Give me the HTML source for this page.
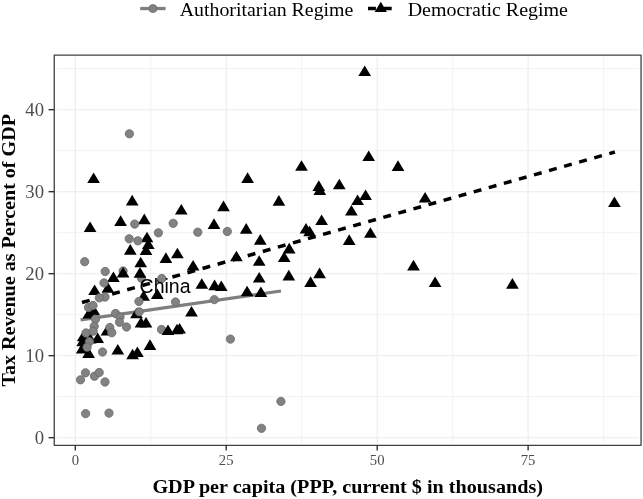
<!DOCTYPE html>
<html lang="en">
<head>
<meta charset="utf-8">
<title>Tax Revenue vs GDP per capita</title>
<style>
html,body{margin:0;padding:0;background:#fff;}
body{width:643px;height:499px;overflow:hidden;}
svg{display:block;will-change:transform;font-family:"Liberation Serif","Times New Roman",serif;}
</style>
</head>
<body>
<svg width="643" height="499" viewBox="0 0 643 499">
<rect width="643" height="499" fill="#fff"/>
<!-- gridlines -->
<path d="M150.8 57.1V443.3" stroke="#f0f0f0" stroke-width="0.9"/>
<path d="M301.7 57.1V443.3" stroke="#f0f0f0" stroke-width="0.9"/>
<path d="M452.7 57.1V443.3" stroke="#f0f0f0" stroke-width="0.9"/>
<path d="M603.6 57.1V443.3" stroke="#f0f0f0" stroke-width="0.9"/>
<path d="M56.5 396.7H638.7" stroke="#f0f0f0" stroke-width="0.9"/>
<path d="M56.5 314.7H638.7" stroke="#f0f0f0" stroke-width="0.9"/>
<path d="M56.5 232.7H638.7" stroke="#f0f0f0" stroke-width="0.9"/>
<path d="M56.5 150.7H638.7" stroke="#f0f0f0" stroke-width="0.9"/>
<path d="M56.5 68.7H638.7" stroke="#f0f0f0" stroke-width="0.9"/>
<path d="M75.3 57.1V443.3" stroke="#ebebeb" stroke-width="1.1"/>
<path d="M226.2 57.1V443.3" stroke="#ebebeb" stroke-width="1.1"/>
<path d="M377.2 57.1V443.3" stroke="#ebebeb" stroke-width="1.1"/>
<path d="M528.1 57.1V443.3" stroke="#ebebeb" stroke-width="1.1"/>
<path d="M56.5 437.7H638.7" stroke="#ebebeb" stroke-width="1.1"/>
<path d="M56.5 355.7H638.7" stroke="#ebebeb" stroke-width="1.1"/>
<path d="M56.5 273.7H638.7" stroke="#ebebeb" stroke-width="1.1"/>
<path d="M56.5 191.7H638.7" stroke="#ebebeb" stroke-width="1.1"/>
<path d="M56.5 109.7H638.7" stroke="#ebebeb" stroke-width="1.1"/>
<!-- regression lines -->
<path d="M80.6 319.85L281 291" stroke="#7f7f7f" stroke-width="3.2" fill="none"/>
<path d="M82 302.5L614.9 152" stroke="#000" stroke-width="3.5" stroke-dasharray="7.95 7.705" fill="none"/>
<!-- points -->
<g fill="#828282" stroke="#686868" stroke-width="0.8">
<circle cx="123.1" cy="271.0" r="4.15"/><circle cx="141.5" cy="278.2" r="4.15"/><circle cx="161.5" cy="329.5" r="4.15"/>
</g>
<g fill="#000">
<path d="M93.6 172.4L99.95 183.0H87.25Z"/><path d="M132.2 194.8L138.55 205.4H125.85Z"/><path d="M120.6 215.3L126.95 225.9H114.25Z"/><path d="M144.3 213.6L150.65 224.2H137.95Z"/><path d="M90.1 221.4L96.45 232.0H83.75Z"/><path d="M147.0 231.7L153.35 242.3H140.65Z"/><path d="M148.3 238.4L154.65 249.0H141.95Z"/><path d="M146.0 244.5L152.35 255.1H139.65Z"/><path d="M130.3 244.1L136.65 254.7H123.95Z"/><path d="M140.7 256.7L147.05 267.3H134.35Z"/><path d="M140.0 267.1L146.35 277.7H133.65Z"/><path d="M123.1 267.0L129.45 277.6H116.75Z"/><path d="M113.4 271.4L119.75 282.0H107.05Z"/><path d="M107.9 282.1L114.25 292.7H101.55Z"/><path d="M94.6 284.5L100.95 295.1H88.25Z"/><path d="M143.6 290.2L149.95 300.8H137.25Z"/><path d="M157.3 288.5L163.65 299.1H150.95Z"/><path d="M165.9 252.3L172.25 262.9H159.55Z"/><path d="M177.4 247.7L183.75 258.3H171.05Z"/><path d="M193.1 259.9L199.45 270.5H186.75Z"/><path d="M201.8 278.2L208.15 288.8H195.45Z"/><path d="M214.6 279.6L220.95 290.2H208.25Z"/><path d="M221.3 280.5L227.65 291.1H214.95Z"/><path d="M191.5 305.9L197.85 316.5H185.15Z"/><path d="M141.0 316.9L147.35 327.5H134.65Z"/><path d="M146.0 316.9L152.35 327.5H139.65Z"/><path d="M136.5 307.7L142.85 318.3H130.15Z"/><path d="M168.0 324.4L174.35 335.0H161.65Z"/><path d="M177.0 323.7L183.35 334.3H170.65Z"/><path d="M179.6 323.0L185.95 333.6H173.25Z"/><path d="M150.0 339.3L156.35 349.9H143.65Z"/><path d="M137.4 346.5L143.75 357.1H131.05Z"/><path d="M132.6 348.7L138.95 359.3H126.25Z"/><path d="M117.8 343.9L124.15 354.5H111.45Z"/><path d="M97.7 332.5L104.05 343.1H91.35Z"/><path d="M107.0 324.9L113.35 335.5H100.65Z"/><path d="M88.8 307.9L95.10 318.5H82.40Z"/><path d="M93.8 304.7L100.15 315.3H87.45Z"/><path d="M90.2 332.9L96.55 343.5H83.85Z"/><path d="M83.2 330.7L89.55 341.3H76.85Z"/><path d="M82.7 335.6L89.05 346.2H76.35Z"/><path d="M82.2 342.8L88.55 353.4H75.85Z"/><path d="M88.6 347.3L94.95 357.9H82.25Z"/><path d="M181.3 203.9L187.65 214.5H174.95Z"/><path d="M247.6 172.3L253.95 182.9H241.25Z"/><path d="M278.9 195.1L285.25 205.7H272.55Z"/><path d="M223.5 200.6L229.85 211.2H217.15Z"/><path d="M214.0 218.3L220.35 228.9H207.65Z"/><path d="M246.2 223.1L252.55 233.7H239.85Z"/><path d="M260.3 234.1L266.65 244.7H253.95Z"/><path d="M301.5 160.2L307.85 170.8H295.15Z"/><path d="M236.4 250.7L242.75 261.3H230.05Z"/><path d="M259.2 255.2L265.55 265.8H252.85Z"/><path d="M289.2 242.8L295.55 253.4H282.85Z"/><path d="M284.2 251.5L290.55 262.1H277.85Z"/><path d="M259.2 271.9L265.55 282.5H252.85Z"/><path d="M288.8 269.8L295.15 280.4H282.45Z"/><path d="M247.1 285.7L253.45 296.3H240.75Z"/><path d="M260.9 286.4L267.25 297.0H254.55Z"/><path d="M364.7 65.5L371.05 76.1H358.35Z"/><path d="M368.7 150.5L375.05 161.1H362.35Z"/><path d="M398.0 160.3L404.35 170.9H391.65Z"/><path d="M318.8 180.3L325.15 190.9H312.45Z"/><path d="M319.8 184.3L326.15 194.9H313.45Z"/><path d="M339.3 178.7L345.65 189.3H332.95Z"/><path d="M365.6 189.5L371.95 200.1H359.25Z"/><path d="M357.6 194.5L363.95 205.1H351.25Z"/><path d="M351.4 204.9L357.75 215.5H345.05Z"/><path d="M321.6 214.5L327.95 225.1H315.25Z"/><path d="M306.0 223.0L312.35 233.6H299.65Z"/><path d="M309.6 225.7L315.95 236.3H303.25Z"/><path d="M370.4 227.2L376.75 237.8H364.05Z"/><path d="M349.2 234.3L355.55 244.9H342.85Z"/><path d="M319.6 267.6L325.95 278.2H313.25Z"/><path d="M310.6 276.3L316.95 286.9H304.25Z"/><path d="M425.1 191.9L431.45 202.5H418.75Z"/><path d="M614.4 196.4L620.75 207.0H608.05Z"/><path d="M413.5 259.8L419.85 270.4H407.15Z"/><path d="M435.1 276.4L441.45 287.0H428.75Z"/><path d="M512.4 278.1L518.75 288.7H506.05Z"/>
</g>
<g fill="#828282" stroke="#686868" stroke-width="0.8">
<circle cx="129.4" cy="133.8" r="4.15"/><circle cx="134.7" cy="224.1" r="4.15"/><circle cx="158.4" cy="232.8" r="4.15"/><circle cx="129.2" cy="238.8" r="4.15"/><circle cx="137.9" cy="240.8" r="4.15"/><circle cx="84.7" cy="261.7" r="4.15"/><circle cx="105.2" cy="271.5" r="4.15"/><circle cx="104.0" cy="282.9" r="4.15"/><circle cx="105.0" cy="297.0" r="4.15"/><circle cx="99.3" cy="297.9" r="4.15"/><circle cx="138.9" cy="301.5" r="4.15"/><circle cx="161.8" cy="278.5" r="4.15"/><circle cx="88.5" cy="307.5" r="4.15"/><circle cx="93.0" cy="305.5" r="4.15"/><circle cx="115.5" cy="313.5" r="4.15"/><circle cx="139.2" cy="311.8" r="4.15"/><circle cx="95.5" cy="319.2" r="4.15"/><circle cx="94.2" cy="326.3" r="4.15"/><circle cx="86.0" cy="333.0" r="4.15"/><circle cx="89.4" cy="341.6" r="4.15"/><circle cx="87.1" cy="347.2" r="4.15"/><circle cx="120.0" cy="317.0" r="4.15"/><circle cx="119.5" cy="322.3" r="4.15"/><circle cx="126.5" cy="327.0" r="4.15"/><circle cx="109.8" cy="327.5" r="4.15"/><circle cx="111.8" cy="332.7" r="4.15"/><circle cx="102.5" cy="352.0" r="4.15"/><circle cx="80.5" cy="379.8" r="4.15"/><circle cx="85.5" cy="372.8" r="4.15"/><circle cx="94.5" cy="376.2" r="4.15"/><circle cx="99.2" cy="372.5" r="4.15"/><circle cx="105.0" cy="382.0" r="4.15"/><circle cx="85.6" cy="413.6" r="4.15"/><circle cx="109.0" cy="413.1" r="4.15"/><circle cx="173.2" cy="223.3" r="4.15"/><circle cx="197.8" cy="232.2" r="4.15"/><circle cx="227.3" cy="231.5" r="4.15"/><circle cx="175.5" cy="302.0" r="4.15"/><circle cx="214.3" cy="299.6" r="4.15"/><circle cx="230.4" cy="339.1" r="4.15"/><circle cx="280.9" cy="401.4" r="4.15"/><circle cx="261.5" cy="428.3" r="4.15"/><circle cx="93.1" cy="331.2" r="4.15"/>
</g>
<text x="139.6" y="292.5" font-family="'Liberation Sans',Arial,Helvetica,sans-serif" font-size="19.5" fill="#000">China</text>
<!-- panel border -->
<rect x="54.25" y="55.1" width="586.8" height="390.2" fill="none" stroke="#404040" stroke-width="1.3" stroke-linejoin="round"/>
<!-- axes -->
<path d="M75.3 445.3v5.2" stroke="#222" stroke-width="1.3"/>
<text x="75.3" y="465" text-anchor="middle" font-size="14.7" fill="#4d4d4d">0</text>
<path d="M226.2 445.3v5.2" stroke="#222" stroke-width="1.3"/>
<text x="226.2" y="465" text-anchor="middle" font-size="14.7" fill="#4d4d4d">25</text>
<path d="M377.2 445.3v5.2" stroke="#222" stroke-width="1.3"/>
<text x="377.2" y="465" text-anchor="middle" font-size="14.7" fill="#4d4d4d">50</text>
<path d="M528.1 445.3v5.2" stroke="#222" stroke-width="1.3"/>
<text x="528.1" y="465" text-anchor="middle" font-size="14.7" fill="#4d4d4d">75</text>
<path d="M54.2 437.7h-5.6" stroke="#222" stroke-width="1.3"/>
<text x="44" y="444.0" text-anchor="end" font-size="18.7" fill="#4d4d4d">0</text>
<path d="M54.2 355.7h-5.6" stroke="#222" stroke-width="1.3"/>
<text x="44" y="362.0" text-anchor="end" font-size="18.7" fill="#4d4d4d">10</text>
<path d="M54.2 273.7h-5.6" stroke="#222" stroke-width="1.3"/>
<text x="44" y="280.0" text-anchor="end" font-size="18.7" fill="#4d4d4d">20</text>
<path d="M54.2 191.7h-5.6" stroke="#222" stroke-width="1.3"/>
<text x="44" y="198.0" text-anchor="end" font-size="18.7" fill="#4d4d4d">30</text>
<path d="M54.2 109.7h-5.6" stroke="#222" stroke-width="1.3"/>
<text x="44" y="116.0" text-anchor="end" font-size="18.7" fill="#4d4d4d">40</text>
<text x="152.4" y="493" textLength="390.6" lengthAdjust="spacingAndGlyphs" font-size="19.2" font-weight="bold" fill="#000">GDP per capita (PPP, current $ in thousands)</text>
<text transform="translate(15.2 386.5) rotate(-90)" textLength="272.4" lengthAdjust="spacingAndGlyphs" font-size="19.2" font-weight="bold" fill="#000">Tax Revenue as Percent of GDP</text>
<!-- legend -->
<path d="M140.2 8.55H165.6" stroke="#7f7f7f" stroke-width="3.3"/>
<circle cx="152.9" cy="8.6" r="4" fill="#828282" stroke="#686868" stroke-width="0.8"/>
<text x="179.7" y="15.5" textLength="173.7" lengthAdjust="spacingAndGlyphs" font-size="19.4" fill="#000">Authoritarian Regime</text>
<path d="M368 8.45H391.7" stroke="#000" stroke-width="3.6" stroke-dasharray="7.9 7.9"/>
<path d="M380.8 1.7L386.95 12.1H374.65Z" fill="#000"/>
<text x="407.7" y="15.5" textLength="160.3" lengthAdjust="spacingAndGlyphs" font-size="19.4" fill="#000">Democratic Regime</text>
</svg>
</body>
</html>
